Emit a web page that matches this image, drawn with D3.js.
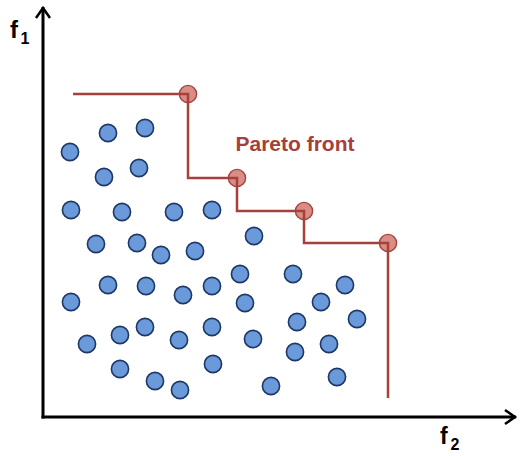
<!DOCTYPE html>
<html>
<head>
<meta charset="utf-8">
<script src="https://cdn.jsdelivr.net/npm/d3@7"></script>
<style>
  html, body { margin: 0; padding: 0; background: #fff; }
  svg { display: block; font-family: "Liberation Sans", Arial, sans-serif; }
</style>
</head>
<body>
<svg id="chart" width="520" height="456"></svg>
<script>
// Dominated solutions: objective f2 (horizontal) and f1 (vertical)
const candF2 = [6.5, 10.2, 2.7, 6.1, 9.6, 2.8, 7.9, 13.1, 16.9, 5.3, 9.4, 11.8, 15.2, 21.1,
  19.7, 25.0, 6.5, 10.3, 14.0, 16.9, 30.2, 2.8, 20.2, 27.8, 25.4, 31.4, 10.2, 7.7, 16.9,
  4.4, 13.6, 21.0, 28.6, 25.2, 7.7, 17.0, 11.2, 13.7, 22.8, 29.4];
const candF1 = [28.4, 28.9, 26.5, 24.0, 24.9, 20.7, 20.5, 20.5, 20.7, 17.3, 17.4, 16.2, 16.6, 18.1,
  14.3, 14.3, 13.2, 13.1, 12.2, 13.1, 13.2, 11.5, 11.4, 11.5, 9.5, 9.8, 9.0, 8.2, 9.0,
  7.3, 7.7, 7.8, 7.3, 6.5, 4.8, 5.3, 3.6, 2.7, 3.1, 4.0];

// Non-dominated solutions forming the front
const frontF2 = [14.5, 19.4, 26.1, 34.5];
const frontF1 = [32.3, 23.9, 20.6, 17.4];

// Where the staircase begins (left) and ends (bottom)
const stepStartF2 = 3.0;
const stepEndF1 = 1.9;

const frontLabel = "Pareto front";

const svg = d3.select("#chart");

const x = d3.scaleLinear().domain([0, 47.5]).range([43, 518]);
const y = d3.scaleLinear().domain([0, 41.2]).range([417, 5]);

// Axes with open arrowheads
const axisColor = "#000";
svg.append("path")
  .attr("d", `M${x(0)},${y(0) + 1.5} L${x(0)},${y(41.0)}`)
  .attr("stroke", axisColor).attr("stroke-width", 3).attr("fill", "none");
svg.append("path")
  .attr("d", `M${x(0) - 7},${y(41.0) + 11} L${x(0)},${y(41.0) + 1} L${x(0) + 7},${y(41.0) + 11}`)
  .attr("stroke", axisColor).attr("stroke-width", 2.5).attr("fill", "none");
svg.append("path")
  .attr("d", `M${x(0) - 1.5},${y(0)} L${x(47.3)},${y(0)}`)
  .attr("stroke", axisColor).attr("stroke-width", 3).attr("fill", "none");
svg.append("path")
  .attr("d", `M${x(47.3) - 11},${y(0) - 7} L${x(47.3) - 1},${y(0)} L${x(47.3) - 11},${y(0) + 7}`)
  .attr("stroke", axisColor).attr("stroke-width", 2.5).attr("fill", "none");

// Axis labels
const l1 = svg.append("text").attr("x", 10).attr("y", 38)
  .attr("font-weight", "bold").attr("font-size", 24).attr("fill", "#000");
l1.append("tspan").text("f");
l1.append("tspan").attr("x", 20.5).attr("y", 44).attr("font-size", 16).text("1");

const l2 = svg.append("text").attr("x", 440).attr("y", 444)
  .attr("font-weight", "bold").attr("font-size", 23).attr("fill", "#000");
l2.append("tspan").text("f");
l2.append("tspan").attr("x", 450.5).attr("y", 450).attr("font-size", 16).text("2");

// Candidate solutions
const cand = candF2.map((v, i) => ({ f2: v, f1: candF1[i] }));
svg.append("g").selectAll("circle").data(cand).join("circle")
  .attr("cx", d => x(d.f2)).attr("cy", d => y(d.f1)).attr("r", 8.6)
  .attr("fill", "#6a9ad9").attr("stroke", "#1d3766").attr("stroke-width", 1.6);

// Front points
const front = frontF2.map((v, i) => ({ f2: v, f1: frontF1[i] }));
svg.append("g").selectAll("circle").data(front).join("circle")
  .attr("cx", d => x(d.f2)).attr("cy", d => y(d.f1)).attr("r", 8.6)
  .attr("fill", "#d98d87").attr("stroke", "#a7423c").attr("stroke-width", 1.4);

// Staircase through the front
const stairs = [{ f2: stepStartF2, f1: frontF1[0] }, ...front,
  { f2: frontF2[frontF2.length - 1], f1: stepEndF1 }];
const line = d3.line().x(d => x(d.f2)).y(d => y(d.f1)).curve(d3.curveStepBefore);
svg.append("path").datum(stairs).attr("d", line)
  .attr("fill", "none").attr("stroke", "#a5403a").attr("stroke-width", 2.5);

svg.append("text").attr("x", 235.5).attr("y", 151)
  .attr("font-weight", "bold").attr("font-size", 21).attr("fill", "#a5403a")
  .text(frontLabel);
</script>
</body>
</html>
